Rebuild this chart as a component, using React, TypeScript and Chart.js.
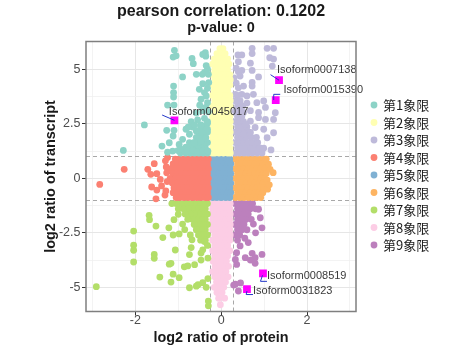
import { useEffect, useRef } from 'react';
import { Chart, registerables } from 'chart.js';
Chart.register(...registerables);

const titleLines = ['pearson correlation: 0.1202', 'p-value: 0'];
const xAxisTitle = 'log2 ratio of protein';
const yAxisTitle = 'log2 ratio of transcript';
const categories = ['第1象限', '第2象限', '第3象限', '第4象限', '第5象限', '第6象限', '第7象限', '第8象限', '第9象限'];
const seriesColors = ['#8DD3C7', '#FFFFB3', '#BEBADA', '#FB8072', '#80B1D3', '#FDB462', '#B3DE69', '#FCCDE5', '#BC80BD'];

const xTickValues = [-3, -2, -1, 0, 1, 2, 3];
const xTickLabels = ['', '-2', '', '0', '', '2', ''];
const yTickValues = [-5, -3.75, -2.5, -1.25, 0, 1.25, 2.5, 3.75, 5];
const yTickLabels = ['-5', '', '-2.5', '', '0', '', '2.5', '', '5'];
const xThresholds = [-0.263, 0.263];
const yThresholds = [-1, 1];

// dense rows: [y, x1, x2, ...]; scatter: [x, y]
const q1Rows = [
  [1.16, -0.32, -0.42, -0.52, -0.62, -0.72, -0.83, -0.95],
  [1.4, -0.37, -0.47, -0.57, -0.67, -0.78],
  [1.64, -0.32, -0.42, -0.52, -0.63, -0.74],
  [1.88, -0.37, -0.47, -0.58],
  [2.12, -0.32, -0.42, -0.52],
  [2.36, -0.37, -0.48],
  [2.6, -0.32],
];
const q1Scatter = [
  [-1.09, 5.87], [-1.12, 5.56], [-1.05, 5.62], [-0.68, 5.5], [-0.65, 5.26], [-0.37, 5.76], [-0.36, 5.6], [-0.43, 5.68],
  [-0.58, 4.77], [-0.39, 4.86], [-0.32, 5.01], [-0.35, 5.17], [-0.44, 4.77], [-0.3, 4.77], [-0.9, 4.65], [-0.43, 4.34],
  [-0.29, 4.39], [-0.51, 4.08], [-0.32, 4.13], [-0.39, 3.93], [-1.11, 4.23], [-1.11, 3.93], [-1.11, 3.73], [-0.35, 3.78],
  [-0.47, 3.63], [-1.25, 3.36], [-1.1, 3.36], [-0.32, 3.47], [-1.79, 2.45], [-1.27, 2.2], [-1.1, 2.2], [-0.82, 2.25],
  [-0.67, 2.35], [-0.47, 2.45], [-0.55, 2.68], [-0.39, 2.75], [-0.32, 2.52], [-0.7, 2.6], [-0.58, 2.99], [-1.12, 1.94],
  [-0.9, 1.79], [-0.74, 2.02], [-0.58, 2.17], [-0.43, 2.1], [-0.32, 2.25], [-1.38, 1.48], [-1.21, 1.63], [-0.98, 1.55],
  [-0.82, 1.43], [-0.63, 1.63], [-0.47, 1.71], [-0.36, 1.86], [-2.28, 1.28], [-1.13, 1.25], [-1.01, 1.27], [-0.9, 1.22],
  [-0.78, 1.25], [-0.66, 1.27], [-0.54, 1.22], [-0.43, 1.25], [-0.31, 1.25], [-0.43, 3.1], [-0.36, 3.25], [-0.5, 3.35],
  [-0.3, 3.05], [-0.62, 2.45], [-0.77, 2.35], [-1.25, 1.2], [-0.95, 1.35],
];

const q2Rows = [
  [5.95, -0.03, 0.04],
  [5.72, -0.1, 0.0, 0.09],
  [5.48, -0.16, -0.05, 0.06, 0.15],
  [5.24, -0.2, -0.1, 0.0, 0.1, 0.18],
  [5.0, -0.15, -0.05, 0.05, 0.15],
  [4.76, -0.2, -0.1, 0.0, 0.1, 0.2],
  [4.52, -0.15, -0.05, 0.05, 0.15, 0.21],
  [4.28, -0.2, -0.1, 0.0, 0.1, 0.2],
  [4.04, -0.16, -0.05, 0.05, 0.15],
  [3.8, -0.2, -0.1, 0.0, 0.1, 0.2],
  [3.56, -0.15, -0.05, 0.05, 0.15, 0.21],
  [3.32, -0.2, -0.1, 0.0, 0.1, 0.2],
  [3.08, -0.15, -0.05, 0.05, 0.15],
  [2.84, -0.2, -0.1, 0.0, 0.1, 0.2],
  [2.6, -0.21, -0.15, -0.05, 0.05, 0.15, 0.21],
  [2.36, -0.2, -0.1, 0.0, 0.1, 0.2],
  [2.12, -0.21, -0.15, -0.05, 0.05, 0.15, 0.21],
  [1.88, -0.2, -0.1, 0.0, 0.1, 0.2],
  [1.64, -0.21, -0.15, -0.05, 0.05, 0.15, 0.21],
  [1.4, -0.2, -0.1, 0.0, 0.1, 0.2],
  [1.16, -0.21, -0.15, -0.05, 0.05, 0.15, 0.21],
];
const q2Scatter: number[][] = [];

const q3Rows = [
  [1.16, 0.33, 0.43, 0.53, 0.63, 0.73, 0.84, 0.95],
  [1.4, 0.38, 0.48, 0.58, 0.68, 0.79, 0.9],
  [1.64, 0.33, 0.43, 0.53, 0.63, 0.73, 0.85],
  [1.88, 0.38, 0.48, 0.58, 0.7, 0.82],
  [2.12, 0.33, 0.43, 0.53, 0.64],
  [2.36, 0.38, 0.48, 0.6],
  [2.6, 0.33, 0.43, 0.52],
  [2.84, 0.38, 0.48],
  [3.08, 0.33, 0.43],
  [3.32, 0.38, 0.5],
  [3.56, 0.33, 0.44],
  [3.8, 0.38],
];
const q3Scatter = [
  [0.72, 5.96], [0.72, 5.72], [0.48, 5.66], [0.39, 5.66], [1.07, 5.96], [1.22, 5.96], [1.13, 5.53], [1.22, 5.47],
  [1.19, 5.15], [0.4, 5.35], [0.68, 5.28], [0.48, 4.95], [0.72, 4.95], [0.4, 4.89], [0.87, 4.65], [0.44, 4.69],
  [0.72, 4.4], [0.35, 4.36], [0.72, 4.23], [0.52, 4.23], [0.4, 4.15], [0.33, 3.85], [0.48, 3.85], [0.6, 3.78],
  [0.75, 3.85], [0.83, 3.47], [0.99, 3.55], [1.03, 3.25], [0.87, 3.02], [0.68, 3.1], [0.52, 3.02], [0.44, 3.25],
  [1.26, 3.01], [1.22, 2.7], [1.03, 2.7], [0.87, 2.78], [0.68, 2.62], [0.56, 2.47], [0.99, 2.25], [0.79, 2.33],
  [0.68, 2.1], [0.52, 2.02], [1.22, 2.09], [1.07, 1.86], [0.75, 1.3], [0.99, 1.38], [1.16, 1.3], [0.6, 3.45],
  [0.3, 4.6], [0.35, 5.05],
];

const q4Rows = [
  [0.88, -1.07, -0.97, -0.87, -0.77, -0.67, -0.57, -0.47, -0.37, -0.3],
  [0.66, -1.12, -1.02, -0.92, -0.82, -0.72, -0.62, -0.52, -0.42, -0.32],
  [0.44, -1.17, -1.07, -0.97, -0.87, -0.77, -0.67, -0.57, -0.47, -0.37, -0.3],
  [0.22, -1.12, -1.02, -0.92, -0.82, -0.72, -0.62, -0.52, -0.42, -0.32],
  [0.0, -1.19, -1.07, -0.97, -0.87, -0.77, -0.67, -0.57, -0.47, -0.37, -0.3],
  [-0.22, -1.14, -1.02, -0.92, -0.82, -0.72, -0.62, -0.52, -0.42, -0.32],
  [-0.44, -1.1, -0.97, -0.87, -0.77, -0.67, -0.57, -0.47, -0.37, -0.3],
  [-0.66, -1.12, -1.02, -0.92, -0.82, -0.72, -0.62, -0.52, -0.42, -0.32],
  [-0.88, -1.05, -0.97, -0.87, -0.77, -0.67, -0.57, -0.47, -0.37, -0.3],
];
const q4Scatter = [
  [-2.83, -0.28], [-2.26, 0.41], [-1.56, 0.67], [-1.71, 0.41], [-1.5, 0.21], [-1.64, 0.18], [-1.28, 0.52], [-1.25, 0.95],
  [-1.39, -0.35], [-1.5, -0.54], [-1.62, -0.4], [-1.52, -0.94], [-1.31, -0.77], [-1.26, -0.15], [-1.29, -0.58],
  [-1.42, -0.05], [-1.3, 0.8], [-1.27, 0.25],
];

const q5Rows = [
  [0.88, -0.2, -0.1, 0.0, 0.1, 0.2],
  [0.66, -0.22, -0.15, -0.05, 0.05, 0.15, 0.22],
  [0.44, -0.2, -0.1, 0.0, 0.1, 0.2],
  [0.22, -0.22, -0.15, -0.05, 0.05, 0.15, 0.22],
  [0.0, -0.2, -0.1, 0.0, 0.1, 0.2],
  [-0.22, -0.22, -0.15, -0.05, 0.05, 0.15, 0.22],
  [-0.44, -0.2, -0.1, 0.0, 0.1, 0.2],
  [-0.66, -0.22, -0.15, -0.05, 0.05, 0.15, 0.22],
  [-0.88, -0.2, -0.1, 0.0, 0.1, 0.2],
];
const q5Scatter: number[][] = [];

const q6Rows = [
  [0.88, 0.33, 0.43, 0.53, 0.63, 0.73, 0.83, 0.93, 1.0],
  [0.66, 0.38, 0.48, 0.58, 0.68, 0.78, 0.88, 0.98, 1.04],
  [0.44, 0.33, 0.43, 0.53, 0.63, 0.73, 0.83, 0.93, 1.02],
  [0.22, 0.38, 0.48, 0.58, 0.68, 0.78, 0.88, 0.98, 1.05],
  [0.0, 0.33, 0.43, 0.53, 0.63, 0.73, 0.83, 0.93, 1.01],
  [-0.22, 0.38, 0.48, 0.58, 0.68, 0.78, 0.88, 0.98, 1.04],
  [-0.44, 0.33, 0.43, 0.53, 0.63, 0.73, 0.83, 0.93, 1.0],
  [-0.66, 0.38, 0.48, 0.58, 0.68, 0.78, 0.88, 0.97],
  [-0.88, 0.33, 0.43, 0.53, 0.63, 0.73, 0.83, 0.92],
];
const q6Scatter = [
  [1.21, 0.26], [1.14, 0.41], [1.07, -0.08], [1.1, 0.65], [1.08, -0.5], [1.05, 0.88], [1.12, -0.3],
];

const q7Rows = [
  [-1.16, -0.32, -0.42, -0.52, -0.62, -0.72, -0.82, -0.93, -1.05, -1.15],
  [-1.4, -0.37, -0.47, -0.57, -0.67, -0.77, -0.88, -1.0],
  [-1.64, -0.32, -0.42, -0.52, -0.62, -0.72, -0.84],
  [-1.88, -0.37, -0.47, -0.57, -0.67, -0.78],
  [-2.12, -0.32, -0.42, -0.52, -0.63],
  [-2.36, -0.37, -0.47, -0.58],
  [-2.6, -0.32, -0.42, -0.53],
  [-2.84, -0.37, -0.48],
  [-3.08, -0.32],
];
const q7Scatter = [
  [-1.68, -1.7], [-1.67, -1.9], [-1.52, -2.19], [-2.04, -2.42], [-1.36, -2.72], [-1.22, -2.27], [-1.12, -2.6],
  [-1.07, -3.29], [-0.98, -2.55], [-2.04, -3.07], [-2.04, -3.3], [-2.04, -3.84], [-1.56, -3.49], [-1.56, -3.67],
  [-1.21, -3.94], [-1.17, -3.9], [-0.86, -4.06], [-0.78, -4.02], [-0.62, -3.96], [-1.12, -4.4], [-1.43, -4.53],
  [-1.17, -4.76], [-0.98, -4.56], [-0.74, -5.02], [-0.58, -4.95], [-0.54, -4.88], [-0.43, -4.79], [-0.35, -5.0],
  [-0.31, -4.6], [-2.91, -4.97], [-0.7, -3.18], [-0.74, -3.5], [-0.47, -3.43], [-0.43, -3.28], [-0.31, -3.66],
  [-0.39, -2.9], [-0.47, -3.75], [-0.3, -5.63], [-0.3, -5.85], [-1.0, -1.65], [-1.1, -1.9], [-0.9, -2.1],
  [-0.85, -2.35], [-0.72, -2.6], [-0.68, -2.82],
];

const q8Rows = [
  [-1.16, -0.21, -0.15, -0.05, 0.05, 0.15, 0.21],
  [-1.4, -0.2, -0.1, 0.0, 0.1, 0.2],
  [-1.64, -0.21, -0.15, -0.05, 0.05, 0.15, 0.21],
  [-1.88, -0.2, -0.1, 0.0, 0.1, 0.2],
  [-2.12, -0.21, -0.15, -0.05, 0.05, 0.15, 0.21],
  [-2.36, -0.2, -0.1, 0.0, 0.1, 0.2],
  [-2.6, -0.15, -0.05, 0.05, 0.15, 0.21],
  [-2.84, -0.2, -0.1, 0.0, 0.1, 0.2],
  [-3.08, -0.15, -0.05, 0.05, 0.15],
  [-3.32, -0.2, -0.1, 0.0, 0.1, 0.2],
  [-3.56, -0.15, -0.05, 0.05, 0.15],
  [-3.8, -0.19, -0.08, 0.02, 0.12],
  [-4.04, -0.14, -0.04, 0.07, 0.17],
  [-4.28, -0.2, -0.09, 0.01, 0.11],
  [-4.52, -0.15, -0.05, 0.05, 0.16],
  [-4.76, -0.11, 0.0, 0.1],
  [-5.0, -0.16, -0.05, 0.06],
  [-5.24, -0.1, 0.02],
  [-5.5, -0.06, 0.08],
  [-5.8, -0.02],
];
const q8Scatter: number[][] = [];

const q9Rows = [
  [-1.16, 0.33, 0.43, 0.53, 0.63, 0.73],
  [-1.4, 0.38, 0.48, 0.58, 0.68, 0.8],
  [-1.64, 0.33, 0.43, 0.53, 0.63],
  [-1.88, 0.38, 0.48, 0.58, 0.7],
  [-2.12, 0.33, 0.43, 0.53],
  [-2.36, 0.38, 0.48, 0.6],
  [-2.6, 0.33, 0.43],
  [-2.84, 0.38],
];
const q9Scatter = [
  [0.91, -1.81], [0.95, -2.27], [0.87, -1.42], [0.72, -3.44], [0.79, -3.64], [0.95, -3.49], [0.56, -3.64],
  [0.36, -3.41], [0.33, -3.72], [0.36, -3.95], [0.33, -4.86], [0.4, -5.17], [0.68, -3.75], [0.79, -3.9],
  [0.29, -4.9], [0.45, -4.8], [0.44, -3.1], [0.63, -2.95], [0.75, -2.1], [0.8, -2.5], [0.55, -2.75],
];

const highlightNames = ['Isoform0007138', 'Isoform0015390', 'Isoform0045017', 'Isoform0008519', 'Isoform0031823'];
const highlightX = [1.347, 1.27, -1.09, 0.973, 0.6];
const highlightY = [4.5, 3.59, 2.66, -4.36, -5.08];

// label styling (pixel offsets from the point)
const labelOffsets = [[-2, -10], [7.8, -9.7], [-5.6, -8.3], [4, 2.5], [6, 1.5]];
const segmentPaths = [
  [[0, 0], [-8.5, -5.5]],
  [[-2, 0], [-2, -5.7], [4.5, -5.7]],
  [[0, 0], [-12.3, -5.3]],
  [[-0.5, 2], [-2.5, 8], [4, 8]],
  [[0, 2], [-0.8, 5.5], [6, 5.5]],
];

function expand(rows: number[][], scatter: number[][]) {
  const pts: { x: number; y: number }[] = [];
  for (const r of rows) {
    for (let i = 1; i < r.length; i++) pts.push({ x: r[i], y: r[0] });
  }
  for (const p of scatter) pts.push({ x: p[0], y: p[1] });
  return pts;
}

const groups = [
  expand(q1Rows, q1Scatter), expand(q2Rows, q2Scatter), expand(q3Rows, q3Scatter),
  expand(q4Rows, q4Scatter), expand(q5Rows, q5Scatter), expand(q6Rows, q6Scatter),
  expand(q7Rows, q7Scatter), expand(q8Rows, q8Scatter), expand(q9Rows, q9Scatter),
];

const FONT = '"Liberation Sans", Arial, sans-serif';

const decorPlugin = {
  id: 'decor',
  beforeDatasetsDraw(chart: any) {
    const { ctx, chartArea: a, scales } = chart;
    ctx.save();
    ctx.strokeStyle = '#A8A8A8';
    ctx.lineWidth = 1;
    ctx.setLineDash([4, 3]);
    for (const v of xThresholds) {
      const px = Math.round(scales.x.getPixelForValue(v)) + 0.5;
      ctx.beginPath(); ctx.moveTo(px, a.top); ctx.lineTo(px, a.bottom); ctx.stroke();
    }
    for (const v of yThresholds) {
      const py = Math.round(scales.y.getPixelForValue(v)) + 0.5;
      ctx.beginPath(); ctx.moveTo(a.left, py); ctx.lineTo(a.right, py); ctx.stroke();
    }
    ctx.restore();
  },
  afterDatasetsDraw(chart: any) {
    const { ctx, scales } = chart;
    ctx.save();
    highlightNames.forEach((name, i) => {
      const px = scales.x.getPixelForValue(highlightX[i]);
      const py = scales.y.getPixelForValue(highlightY[i]);
      ctx.strokeStyle = '#2438C8';
      ctx.lineWidth = 1;
      ctx.beginPath();
      segmentPaths[i].forEach((p, j) => {
        if (j === 0) ctx.moveTo(px + p[0], py + p[1]);
        else ctx.lineTo(px + p[0], py + p[1]);
      });
      ctx.stroke();
      ctx.fillStyle = '#3A3A3A';
      ctx.font = `11px ${FONT}`;
      ctx.textAlign = 'left';
      ctx.textBaseline = 'middle';
      ctx.fillText(name, px + labelOffsets[i][0], py + labelOffsets[i][1]);
    });
    ctx.restore();
  },
  afterDraw(chart: any) {
    const { ctx, chartArea: a } = chart;
    ctx.save();
    ctx.strokeStyle = '#7F7F7F';
    ctx.lineWidth = 1.5;
    ctx.strokeRect(a.left, a.top, a.right - a.left, a.bottom - a.top);
    const cx = (a.left + a.right) / 2;
    ctx.fillStyle = '#1A1A1A';
    ctx.textAlign = 'center';
    ctx.textBaseline = 'middle';
    ctx.font = `bold 16px ${FONT}`;
    ctx.fillText(titleLines[0], cx, 11.5);
    ctx.font = `bold 14.5px ${FONT}`;
    ctx.fillText(titleLines[1], cx, 27.5);
    ctx.font = `bold 14.4px ${FONT}`;
    ctx.fillText(xAxisTitle, cx, 338);
    ctx.save();
    ctx.translate(51.5, (a.top + a.bottom) / 2);
    ctx.rotate(-Math.PI / 2);
    ctx.fillText(yAxisTitle, 0, 0);
    ctx.restore();
    // legend
    ctx.textAlign = 'left';
    ctx.font = `13px "Noto Sans CJK SC", sans-serif`;
    categories.forEach((c, i) => {
      const y = 105 + i * 17.5;
      ctx.fillStyle = seriesColors[i];
      ctx.beginPath();
      ctx.arc(374, y, 3.4, 0, Math.PI * 2);
      ctx.fill();
      ctx.fillStyle = '#1A1A1A';
      ctx.fillText(c, 383, y + 0.5);
    });
    ctx.restore();
  },
};

export default function App() {
  const ref = useRef<HTMLCanvasElement | null>(null);
  useEffect(() => {
    if (!ref.current) return;
    const datasets: any[] = groups.map((pts, i) => ({
      label: categories[i],
      data: pts,
      backgroundColor: seriesColors[i],
      borderWidth: 0,
      pointRadius: 3.4,
      pointHoverRadius: 3.4,
    }));
    datasets.push({
      label: 'highlight',
      data: highlightX.map((x, i) => ({ x, y: highlightY[i] })),
      backgroundColor: '#FF00FF',
      borderWidth: 0,
      pointStyle: 'rect',
      pointRadius: 5.5,
      pointHoverRadius: 5.5,
    });
    const gridFor = (labels: string[]) => ({
      color: (c: any) => (labels[c.index] ? '#E6E6E6' : '#F0F0F0'),
      lineWidth: (c: any) => (labels[c.index] ? 1 : 0.8),
      tickColor: (c: any) => (labels[c.index] ? '#333333' : 'rgba(0,0,0,0)'),
      tickWidth: 1,
      tickLength: 4,
      drawTicks: true,
    });
    const chart = new Chart(ref.current, {
      type: 'scatter',
      data: { datasets },
      options: {
        animation: false,
        responsive: false,
        devicePixelRatio: 1,
        events: [],
        layout: { padding: { top: 41.5, right: 102, left: 0, bottom: 0 } },
        plugins: { legend: { display: false }, tooltip: { enabled: false }, title: { display: false } },
        scales: {
          x: {
            type: 'linear',
            min: -3.15,
            max: 3.14,
            afterBuildTicks: (s: any) => { s.ticks = xTickValues.map((v) => ({ value: v })); },
            afterFit: (s: any) => { s.height = 38.5; },
            grid: gridFor(xTickLabels),
            border: { display: false },
            ticks: {
              autoSkip: false,
              maxRotation: 0,
              padding: -1.5,
              color: '#4D4D4D',
              font: { family: FONT, size: 12.5, lineHeight: 1 },
              callback: (_v: any, i: number) => xTickLabels[i],
            },
          },
          y: {
            type: 'linear',
            min: -6.11,
            max: 6.275,
            afterBuildTicks: (s: any) => { s.ticks = yTickValues.map((v) => ({ value: v })); },
            afterFit: (s: any) => { s.width = 86; },
            grid: gridFor(yTickLabels),
            border: { display: false },
            ticks: {
              autoSkip: false,
              padding: 1.5,
              color: '#4D4D4D',
              font: { family: FONT, size: 12.5 },
              callback: (_v: any, i: number) => yTickLabels[i],
            },
          },
        },
      } as any,
      plugins: [decorPlugin],
    });
    return () => chart.destroy();
  }, []);
  return (
    <div style={{ position: 'fixed', left: 0, top: 0, width: 458, height: 350, background: '#fff' }}>
      <canvas ref={ref} width={458} height={350} style={{ display: 'block', width: 458, height: 350 }} />
    </div>
  );
}
